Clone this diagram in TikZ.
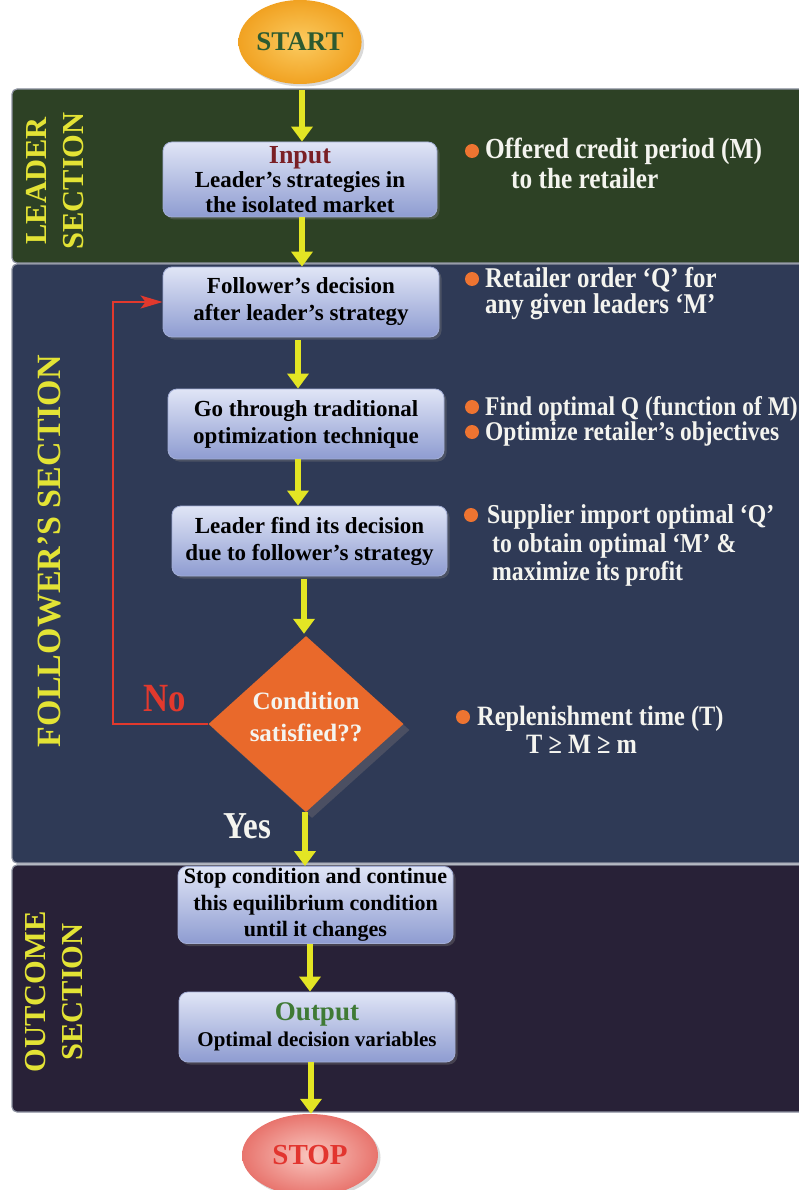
\documentclass[tikz,border=0pt]{standalone}
\usepackage{fontspec}
\setmainfont{Liberation Serif}
\newfontfamily\condfont[FakeStretch=0.87]{Liberation Serif}
\usetikzlibrary{shapes.geometric,arrows.meta,shadows}
\definecolor{leadbg}{HTML}{2D4125}
\definecolor{follbg}{HTML}{2F3A56}
\definecolor{outbg}{HTML}{282137}
\definecolor{panelline}{HTML}{8E93A2}
\definecolor{boxtop}{HTML}{E0E5F6}
\definecolor{boxbot}{HTML}{8E9CD1}
\definecolor{boxline}{HTML}{A3AED6}
\definecolor{arrowyel}{HTML}{E3E524}
\definecolor{labyel}{HTML}{E3E335}
\definecolor{bulor}{HTML}{EE7431}
\definecolor{diaor}{HTML}{E9692B}
\definecolor{diashadow}{HTML}{4B4F62}
\definecolor{noRed}{HTML}{E2392D}
\definecolor{inred}{HTML}{7A1F25}
\definecolor{outgreen}{HTML}{3F7A35}
\definecolor{startgreen}{HTML}{2D5A30}
\definecolor{startin}{HTML}{FBCB60}
\definecolor{startout}{HTML}{F1A222}
\definecolor{stopin}{HTML}{F9C6BF}
\definecolor{stopout}{HTML}{E8746D}
\definecolor{stopred}{HTML}{E2352F}
\definecolor{wtext}{HTML}{F4F4EF}
\begin{document}
\begin{tikzpicture}[x=1pt,y=-1pt,
  panel/.style={draw=panelline, line width=1.2pt, rounded corners=5pt},
  procbox/.style={rectangle, rounded corners=9pt, top color=boxtop, bottom color=boxbot,
    draw=boxline, line width=0.8pt, align=center, inner sep=2pt,
    minimum width=276pt, minimum height=70pt, text=black,
    font=\bfseries\fontsize{23}{27}\selectfont,
    drop shadow={opacity=0.35, shadow xshift=2.5pt, shadow yshift=-2.5pt}},
  term/.style={ellipse, inner sep=0pt, font=\bfseries\fontsize{27}{30}\selectfont,
    drop shadow={opacity=0.3, shadow xshift=2.5pt, shadow yshift=-2.5pt}},
  yarrow/.style={draw=arrowyel, line width=6pt, -{Triangle[width=21pt,length=15pt]}},
  redline/.style={draw=noRed, line width=2pt, -{Stealth[length=22pt,width=13pt,inset=5pt]}},
  seclabel/.style={rotate=90, text=labyel, align=center, inner sep=0pt,
    font=\bfseries\fontsize{30.5}{37}\selectfont},
  rtext/.style={anchor=base west, text=wtext, inner sep=0pt,
    font=\condfont\bfseries\fontsize{#1}{#1}\selectfont},
  bullet/.style={circle, fill=bulor, minimum size=14pt, inner sep=0pt}
]
\useasboundingbox (0,0) rectangle (799,1190);
\clip (0,0) rectangle (799,1190);

% panels
\filldraw[panel, fill=leadbg] (12,89) rectangle (806,263);
\filldraw[panel, fill=follbg] (12,264) rectangle (806,863);
\filldraw[panel, fill=outbg] (12,865) rectangle (806,1112);

% section labels
\node[seclabel] (lsec) at (55,181) {LEADER\\SECTION};
\node[seclabel, font=\bfseries\fontsize{34}{37}\selectfont] (fsec) at (49,551) {FOLLOWER’S SECTION};
\node[seclabel] (osec) at (54,992) {OUTCOME\\SECTION};

% terminals
\node[term, inner color=startin, outer color=startout, minimum width=120pt,
      minimum height=84pt, text=startgreen] (start) at (300,42) {START};
\node[term, inner color=stopin, outer color=stopout, minimum width=136pt,
      minimum height=82pt, text=stopred, font=\bfseries\fontsize{29}{30}\selectfont] (stop) at (310,1155) {STOP};

% process boxes
\node[procbox, minimum width=274pt, minimum height=75pt, font=\bfseries\fontsize{23}{24.5}\selectfont] (inp) at (300,179.5)
  {{\fontsize{26}{28}\selectfont\color{inred}Input}\\Leader’s strategies in\\the isolated market};
\node[procbox] (fol) at (301,302) {Follower’s decision\\after leader’s strategy};
\node[procbox] (go) at (306,424) {Go through traditional\\optimization technique};
\node[procbox, minimum width=275pt] (ldr) at (309.5,541) {Leader find its decision\\due to follower’s strategy};
\node[procbox, minimum width=275pt, minimum height=76pt, font=\bfseries\fontsize{22}{26.5}\selectfont] (stc) at (315.5,905)
  {Stop condition and continue\\this equilibrium condition\\until it changes};
\node[procbox, font=\bfseries\fontsize{21}{26}\selectfont] (out) at (317,1027)
  {{\fontsize{27}{29}\selectfont\color{outgreen}Output}\\Optimal decision variables};

% decision
\node[diamond, fill=diaor, minimum width=195pt, minimum height=176pt, inner sep=0pt,
      text=wtext, align=center, font=\bfseries\fontsize{25}{32}\selectfont, text depth=14pt,
      drop shadow={fill=diashadow, opacity=1, shadow xshift=6pt, shadow yshift=-6pt}]
      (dia) at (306,724) {Condition\\satisfied??};

% loop back (No)
\coordinate (loopc) at (113,724);
\draw[redline] (dia.west) -- (loopc) |- (fol.west);
\node[text=noRed, inner sep=0pt, font=\condfont\bfseries\fontsize{40}{42}\selectfont] (no) at (165,699) {No};
\node[text=wtext, inner sep=0pt, font=\condfont\bfseries\fontsize{38}{40}\selectfont] (yes) at (247,826) {Yes};

% yellow arrows
\coordinate (a1s) at ([xshift=2pt]start.south);
\coordinate (a2s) at ([xshift=2pt]inp.south);
\coordinate (a3s) at ([xshift=-3pt]fol.south);
\coordinate (a4s) at ([xshift=-8pt]go.south);
\coordinate (a5s) at ([xshift=-5.5pt]ldr.south);
\coordinate (a6s) at ([xshift=-1pt]dia.south);
\coordinate (a7s) at ([xshift=-5.5pt]stc.south);
\coordinate (a8s) at ([xshift=-6pt]out.south);
\draw[yarrow, shorten <=6pt] (a1s) -- (a1s |- inp.north);
\draw[yarrow] (a2s) -- (a2s |- fol.north);
\draw[yarrow, shorten <=3pt] (a3s) -- (a3s |- go.north);
\draw[yarrow] (a4s) -- (a4s |- ldr.north);
\draw[yarrow, shorten <=3pt, shorten >=2pt] (a5s) -- (a5s |- dia.north);
\draw[yarrow] (a6s) -- (a6s |- stc.north);
\draw[yarrow] (a7s) -- (a7s |- out.north);
\draw[yarrow] (a8s) -- (a8s |- stop.north);

% right-hand notes
\node[bullet] (b1) at (472,151) {};
\node[rtext=29.1] (t1a) at (485,159) {Offered credit period (M)};
\node[rtext=29.1] (t1b) at (511,189) {to the retailer};
\node[bullet] (b2) at (472,279) {};
\node[rtext=28.6] (t2a) at (485,287) {Retailer order ‘Q’ for};
\node[rtext=28.6] (t2b) at (485,313) {any given leaders ‘M’};
\node[bullet] (b3) at (472,407) {};
\node[rtext=27] (t3a) at (485,415) {Find optimal Q (function of M)};
\node[bullet] (b4) at (472,432) {};
\node[rtext=27] (t3b) at (485,440) {Optimize retailer’s objectives};
\node[bullet] (b5) at (471,515) {};
\node[rtext=27.3] (t4a) at (487,523) {Supplier import optimal ‘Q’};
\node[rtext=27.3] (t4b) at (492,552) {to obtain optimal ‘M’ \&};
\node[rtext=27.3] (t4c) at (492,580) {maximize its profit};
\node[bullet] (b6) at (463,717) {};
\node[rtext=28] (t5a) at (477,725) {Replenishment time (T)};
\node[rtext=28] (t5b) at (526,753) {T ≥ M ≥ m};
\end{tikzpicture}
\end{document}
